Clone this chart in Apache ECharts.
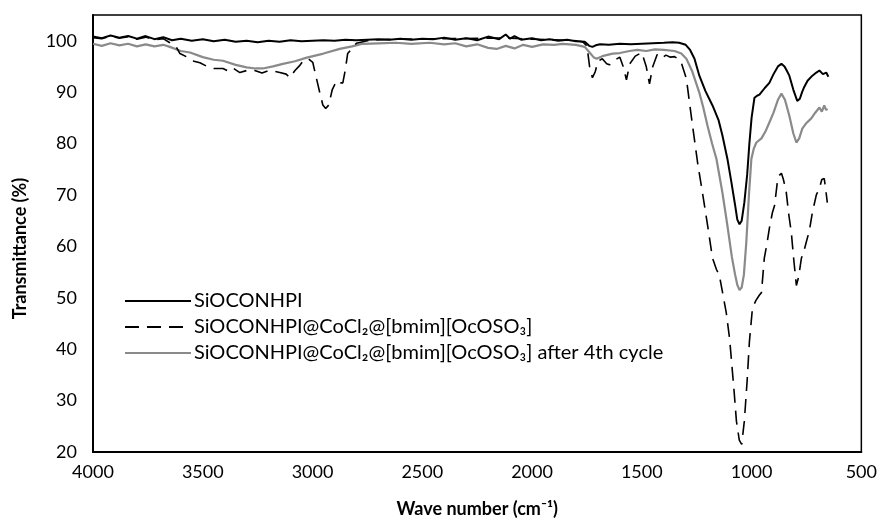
<!DOCTYPE html>
<html>
<head>
<meta charset="utf-8">
<style>
  html, body { margin: 0; padding: 0; background: #fff; }
  #chart { width: 880px; height: 532px; }
</style>
<script src="https://cdn.jsdelivr.net/npm/echarts@6/dist/echarts.min.js"></script>
</head>
<body>
<div id="chart"></div>
<script>
// series names
const names = [
  'SiOCONHPI',
  'SiOCONHPI@CoCl₂@[bmim][OcOSO₃]',
  'SiOCONHPI@CoCl₂@[bmim][OcOSO₃] after 4th cycle'
];

// [wave number, transmittance]
const spectrumA = [
  [4000,100.8],[3960,100.5],[3920,101.0],[3880,100.6],[3840,100.9],[3800,100.4],[3760,100.9],[3720,100.3],
  [3680,100.7],[3640,100.1],[3600,100.4],[3550,100.0],[3500,100.3],[3450,99.9],[3400,100.2],[3350,99.8],
  [3300,100.0],[3250,99.7],[3200,100.0],[3150,99.8],[3100,100.1],[3050,99.9],[3000,100.0],[2950,100.1],
  [2900,100.0],[2850,100.2],[2800,100.1],[2750,100.2],[2700,100.3],[2650,100.2],[2600,100.4],[2550,100.2],
  [2500,100.4],[2450,100.3],[2400,100.6],[2350,100.2],[2300,100.5],[2250,100.1],[2200,100.8],[2150,100.3],
  [2120,101.2],[2100,100.4],[2080,100.9],[2050,100.2],[2000,100.5],[1960,100.1],[1920,100.3],[1880,100.0],
  [1840,100.2],[1800,99.9],[1760,99.8],[1740,99.0],[1725,98.8],[1710,99.1],[1690,99.3],[1650,99.2],
  [1600,99.4],[1550,99.3],[1500,99.4],[1450,99.5],[1400,99.6],[1360,99.7],[1330,99.6],[1300,99.2],
  [1280,98.2],[1260,96.5],[1238,93.2],[1210,90.2],[1178,87.4],[1150,84.5],[1133,81.6],[1110,77.0],
  [1092,72.5],[1075,68.0],[1065,65.2],[1055,64.3],[1045,65.0],[1033,68.5],[1020,74.0],[1010,80.0],
  [1000,85.0],[987,88.9],[975,89.3],[964,89.5],[940,90.8],[919,91.8],[900,93.5],[880,95.0],
  [864,95.5],[850,95.0],[840,94.2],[828,93.2],[810,90.5],[792,88.3],[780,88.7],[770,90.0],
  [760,91.0],[745,92.2],[723,93.2],[705,93.8],[691,94.2],[675,93.5],[660,93.8],[650,93.0]
];

const spectrumB = [
  [4000,100.6],[3960,100.4],[3920,100.9],[3880,100.5],[3840,100.8],[3800,100.3],[3760,100.7],[3720,100.2],
  [3680,100.4],[3650,99.6],[3620,98.7],[3604,97.5],[3570,96.8],[3540,96.0],[3513,95.7],[3480,95.0],
  [3450,94.6],[3408,94.6],[3380,94.0],[3360,94.6],[3331,93.8],[3300,94.2],[3263,94.2],[3230,93.7],
  [3200,94.2],[3170,94.0],[3149,93.8],[3120,93.5],[3103,92.8],[3080,94.2],[3060,95.1],[3044,96.0],
  [3020,96.5],[2999,95.8],[2985,93.2],[2967,89.9],[2953,87.5],[2940,86.8],[2926,87.5],[2910,90.5],
  [2890,92.2],[2875,91.8],[2862,91.8],[2850,94.5],[2840,97.5],[2800,99.5],[2750,100.0],[2700,100.2],
  [2600,100.3],[2500,100.3],[2400,100.4],[2300,100.4],[2200,100.5],[2100,100.5],[2000,100.3],[1900,100.2],
  [1800,100.0],[1770,99.8],[1750,99.0],[1738,95.0],[1725,92.8],[1712,94.0],[1700,96.0],[1680,96.5],
  [1660,95.5],[1647,95.3],[1620,96.3],[1600,96.8],[1585,95.0],[1570,92.4],[1555,95.5],[1530,97.0],
  [1500,97.7],[1480,95.0],[1465,91.6],[1450,95.0],[1430,97.3],[1410,96.6],[1390,97.2],[1370,96.8],
  [1351,96.9],[1335,96.5],[1320,95.7],[1297,92.6],[1269,83.5],[1245,76.0],[1224,70.5],[1200,64.0],
  [1178,57.7],[1160,55.5],[1147,54.4],[1130,50.5],[1115,47.0],[1100,42.0],[1092,38.0],[1080,32.0],
  [1069,26.0],[1056,22.3],[1045,21.5],[1033,26.0],[1020,34.0],[1010,41.4],[996,48.0],[980,49.5],
  [965,50.5],[955,51.0],[942,57.7],[930,60.5],[919,63.5],[905,66.6],[895,68.0],[883,72.4],
  [874,73.8],[864,74.2],[855,73.0],[842,70.5],[830,66.0],[819,62.7],[808,57.5],[796,52.4],
  [786,54.0],[773,57.7],[762,59.0],[751,60.8],[737,63.0],[723,66.6],[705,70.0],[691,71.3],
  [680,73.0],[669,73.2],[662,71.0],[655,68.5]
];

const spectrumC = [
  [4000,99.4],[3960,99.0],[3920,99.5],[3880,99.1],[3840,99.4],[3800,98.9],[3760,99.3],[3720,98.9],
  [3680,99.2],[3650,98.8],[3600,98.0],[3558,97.7],[3500,96.8],[3450,96.3],[3408,96.1],[3350,95.3],
  [3300,94.8],[3260,94.6],[3226,94.6],[3180,95.0],[3135,95.5],[3080,96.0],[3026,96.7],[2950,97.5],
  [2876,98.4],[2820,98.9],[2771,99.4],[2700,99.5],[2620,99.6],[2550,99.4],[2466,99.6],[2400,99.3],
  [2350,99.5],[2300,98.9],[2250,99.3],[2200,98.6],[2161,98.4],[2120,99.0],[2080,98.5],[2040,99.2],
  [2000,98.8],[1950,99.3],[1900,99.2],[1861,99.4],[1800,99.2],[1760,98.8],[1738,97.7],[1720,96.8],
  [1706,96.5],[1680,97.0],[1633,97.5],[1600,97.6],[1556,98.0],[1520,98.2],[1480,98.0],[1440,98.3],
  [1400,98.2],[1351,98.0],[1320,97.5],[1297,96.5],[1270,94.0],[1238,89.9],[1220,87.0],[1201,83.5],
  [1180,80.0],[1160,77.0],[1133,70.5],[1110,64.0],[1090,58.0],[1075,54.5],[1065,52.5],[1055,51.5],
  [1045,52.0],[1035,54.5],[1024,60.8],[1012,70.0],[1001,77.0],[990,79.0],[978,80.2],[955,81.0],
  [935,82.5],[919,84.1],[900,86.0],[880,88.5],[864,89.7],[848,88.5],[828,85.4],[810,82.0],
  [796,80.2],[783,81.0],[769,82.9],[750,84.0],[728,84.9],[710,86.0],[691,87.0],[680,86.2],
  [669,87.4],[660,86.5],[655,86.8]
];

const xTicks = [500, 4000, 500];   // min, max, step
const yTicks = [20, 105, 10];

const font = 'Lato, "Open Sans", sans-serif';

const chart = echarts.init(document.getElementById('chart'));

chart.setOption({
  backgroundColor: '#fff',
  animation: false,
  grid: {
    left: 93,
    right: 18,
    top: 15,
    bottom: 80,
    show: true,
    borderColor: '#000',
    borderWidth: 1.5
  },
  legend: {
    orient: 'vertical',
    left: 119,
    top: 286,
    itemWidth: 66,
    itemHeight: 16,
    itemGap: 6,
    itemStyle: { opacity: 0 },
    textStyle: { fontFamily: font, fontSize: 20, color: '#000', padding: [0, 0, 0, -2] },
    data: names
  },
  xAxis: {
    type: 'value',
    inverse: true,
    min: xTicks[0],
    max: xTicks[1],
    interval: xTicks[2],
    name: 'Wave number (cm⁻¹)',
    nameLocation: 'middle',
    nameGap: 48,
    nameTextStyle: { fontFamily: font, fontSize: 18, fontWeight: 'bold', color: '#000' },
    axisLine: { lineStyle: { color: '#000', width: 2 } },
    axisTick: { show: false },
    splitLine: { show: false },
    axisLabel: { fontFamily: font, fontSize: 18, color: '#000', margin: 11, formatter: v => String(v) }
  },
  yAxis: {
    type: 'value',
    min: yTicks[0],
    max: yTicks[1],
    interval: yTicks[2],
    name: 'Transmittance (%)',
    nameLocation: 'middle',
    nameGap: 64,
    nameTextStyle: { fontFamily: font, fontSize: 18, fontWeight: 'bold', color: '#000', padding: [0, 30, 0, 0] },
    axisLine: { lineStyle: { color: '#000', width: 2 } },
    axisTick: { show: false },
    splitLine: { show: false },
    axisLabel: { fontFamily: font, fontSize: 18, color: '#000', margin: 16, showMaxLabel: false }
  },
  series: [
    {
      name: names[0],
      type: 'line',
      data: spectrumA,
      symbol: 'none',
      z: 3,
      lineStyle: { color: '#000', width: 2 },
      itemStyle: { color: '#000' }
    },
    {
      name: names[1],
      type: 'line',
      data: spectrumB,
      symbol: 'none',
      z: 4,
      lineStyle: { color: '#000', width: 1.6, type: [14, 8] },
      itemStyle: { color: '#000' }
    },
    {
      name: names[2],
      type: 'line',
      data: spectrumC,
      symbol: 'none',
      z: 2,
      lineStyle: { color: '#8a8a8a', width: 2.2 },
      itemStyle: { color: '#8a8a8a' }
    }
  ]
});
</script>
</body>
</html>
